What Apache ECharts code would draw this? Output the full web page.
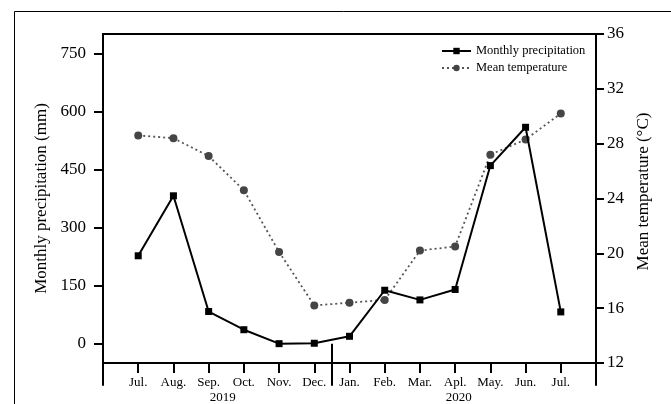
<!DOCTYPE html>
<html>
<head>
<meta charset="utf-8">
<script src="https://cdn.jsdelivr.net/npm/echarts@6/dist/echarts.min.js"></script>
<style>
  html, body { margin: 0; padding: 0; background: #fff; }
  #chart { width: 671px; height: 404px; }
</style>
</head>
<body>
<div id="chart"></div>
<script>
// Month labels (Jul. 2019 – Jul. 2020); blank slots pad both ends of the axis
const months = ['Jul.', 'Aug.', 'Sep.', 'Oct.', 'Nov.', 'Dec.', 'Jan.', 'Feb.', 'Mar.', 'Apl.', 'May.', 'Jun.', 'Jul.'];
const precipitation = [227, 382, 83, 36, 0, 1, 19, 138, 113, 140, 460, 559, 82];
const temperature = [28.6, 28.4, 27.1, 24.6, 20.1, 16.2, 16.4, 16.6, 20.2, 20.5, 27.2, 28.3, 30.2];
const precipTicks = [0, 150, 300, 450, 600, 750];
const years = ['2019', '2020'];
// Year group boundaries and label centres along the 0..14 slot axis
const yearBounds = [0, 6.5, 14];
const yearCentres = [3.4, 10.1];

const FONT = 'Liberation Serif';
const categories = [''].concat(months, ['']);
const pad = (arr) => [null].concat(arr, [null]);

const chart = echarts.init(document.getElementById('chart'), null, { renderer: 'canvas' });

chart.setOption({
  animation: false,
  backgroundColor: '#fff',
  textStyle: { fontFamily: FONT, color: '#000' },
  grid: {
    left: 103, right: 75, top: 34, bottom: 41,
    show: true, borderColor: '#000', borderWidth: 2, backgroundColor: 'transparent'
  },
  graphic: [{
    type: 'rect', silent: true, z: -1,
    shape: { x: 14.5, y: 11.5, width: 800, height: 500 },
    style: { fill: 'none', stroke: '#000', lineWidth: 1 }
  }],
  legend: {
    orient: 'vertical',
    left: 441, top: 44,
    padding: 0,
    itemWidth: 29, itemHeight: 8, itemGap: 3,
    data: ['Monthly precipitation', 'Mean temperature'],
    textStyle: { fontFamily: FONT, fontSize: 12.5, color: '#000', lineHeight: 14 }
  },
  xAxis: [{
    type: 'category',
    data: categories,
    boundaryGap: false,
    position: 'bottom',
    axisLine: { show: true, onZero: false, lineStyle: { color: '#000', width: 2 } },
    axisTick: { show: true, length: 10, lineStyle: { color: '#000', width: 2 } },
    axisLabel: { fontFamily: FONT, fontSize: 13, color: '#000', margin: 13, interval: 0 },
    splitLine: { show: false }
  }, {
    type: 'value',
    min: 0, max: 14,
    position: 'bottom',
    axisLine: { show: false },
    axisTick: { show: true, inside: false, length: 42, customValues: yearBounds, lineStyle: { color: '#000', width: 2 } },
    axisLabel: {
      fontFamily: FONT, fontSize: 13, color: '#000', margin: 28,
      customValues: yearCentres,
      formatter: (v) => (v < 6.5 ? years[0] : years[1])
    },
    splitLine: { show: false }
  }],
  yAxis: [{
    type: 'value',
    min: -50, max: 800,
    position: 'left',
    name: 'Monthly precipitation (mm)',
    nameLocation: 'middle',
    nameGap: 44,
    nameRotate: 90,
    nameTextStyle: { fontFamily: FONT, fontSize: 17, color: '#000' },
    axisLine: { show: true, onZero: false, lineStyle: { color: '#000', width: 2 } },
    axisTick: { show: true, length: 9, customValues: precipTicks, lineStyle: { color: '#000', width: 2 } },
    axisLabel: { fontFamily: FONT, fontSize: 17, color: '#000', margin: 17, customValues: precipTicks },
    splitLine: { show: false }
  }, {
    type: 'value',
    min: 12, max: 36, interval: 4,
    position: 'right',
    name: 'Mean temperature (°C)',
    nameLocation: 'middle',
    nameGap: 30,
    nameRotate: 90,
    nameTextStyle: { fontFamily: FONT, fontSize: 17, color: '#000', padding: [0, 0, 0, 14] },
    axisLine: { show: true, onZero: false, lineStyle: { color: '#000', width: 2 } },
    axisTick: { show: true, length: 8, lineStyle: { color: '#000', width: 2 } },
    axisLabel: { fontFamily: FONT, fontSize: 17, color: '#000', margin: 11 },
    splitLine: { show: false }
  }],
  series: [{
    name: 'Mean temperature',
    type: 'line',
    yAxisIndex: 1,
    data: pad(temperature),
    symbol: 'circle',
    symbolSize: 8,
    itemStyle: { color: '#454545' },
    lineStyle: { color: '#555', width: 1.8, type: [2, 3] },
    z: 2
  }, {
    name: 'Monthly precipitation',
    type: 'line',
    yAxisIndex: 0,
    data: pad(precipitation),
    symbol: 'rect',
    symbolSize: 7,
    itemStyle: { color: '#000' },
    lineStyle: { color: '#000', width: 2 },
    z: 3
  }]
});
</script>
</body>
</html>
